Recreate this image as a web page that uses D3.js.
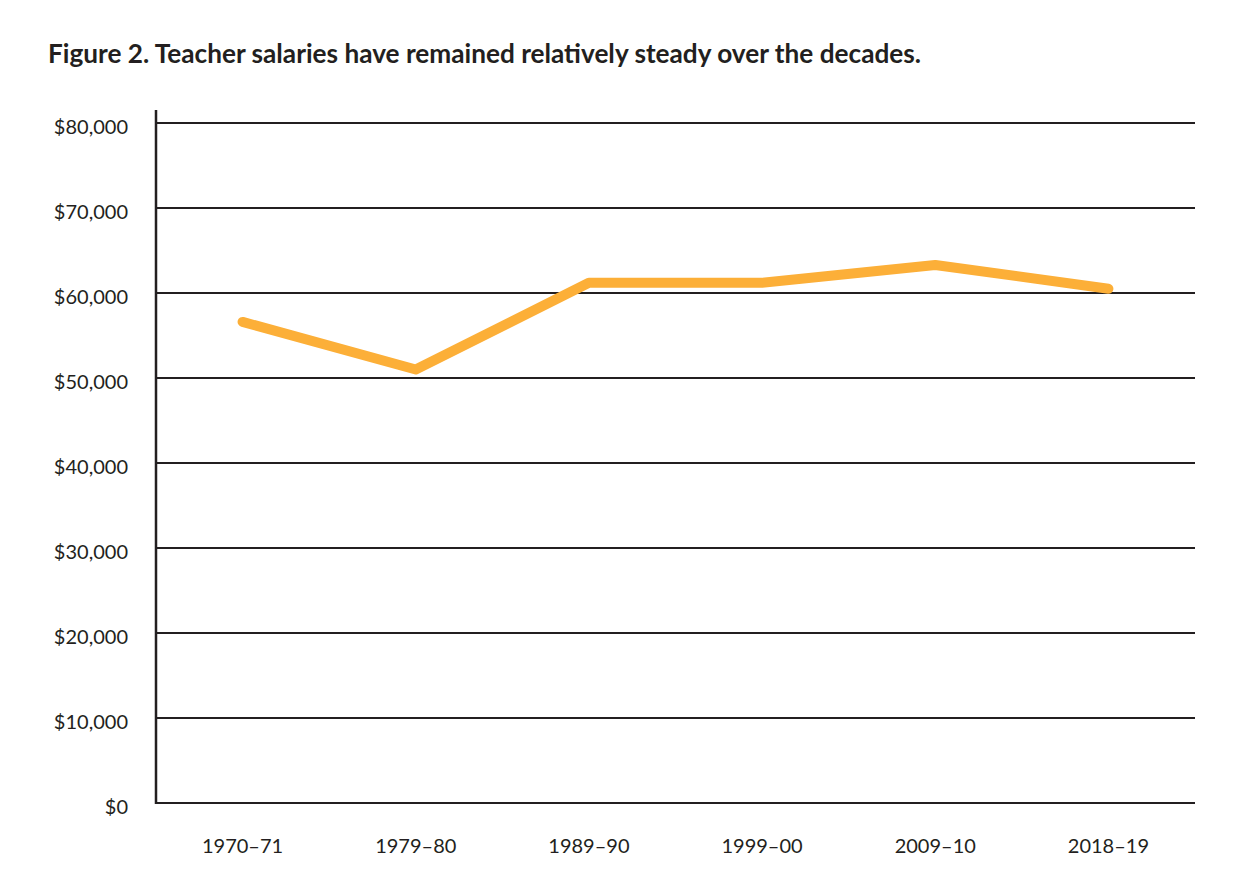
<!DOCTYPE html>
<head>
<meta charset="utf-8">
<title>Teacher salaries</title>
<script src="https://cdnjs.cloudflare.com/ajax/libs/d3/7.8.5/d3.min.js"></script>
<style>
  body { margin: 0; background: #fff; }
  text { font-family: Lato, "Noto Sans", sans-serif; fill: #231f20; }
</style>
</head>
<body>
<script>
// school years and average salary
var years = ["1970–71", "1979–80", "1989–90", "1999–00", "2009–10", "2018–19"];
var salaries = [56600, 51000, 61200, 61200, 63300, 60500];
var yTicks = [0, 10000, 20000, 30000, 40000, 50000, 60000, 70000, 80000];

var svg = d3.select("body").append("svg")
    .attr("width", 1240)
    .attr("height", 880);

svg.append("text")
    .attr("x", 48)
    .attr("y", 63)
    .style("font-size", "26.2px")
    .style("font-weight", "bold")
    .text("Figure 2. Teacher salaries have remained relatively steady over the decades.");

var x = d3.scaleBand().domain(years).range([156, 1195]);
var y = d3.scaleLinear().domain([0, 80000]).range([803, 123]);

// horizontal grid
svg.append("g")
    .selectAll("line")
    .data(yTicks)
  .enter().append("line")
    .attr("x1", 156)
    .attr("x2", 1195)
    .attr("y1", function(d){ return y(d); })
    .attr("y2", function(d){ return y(d); })
    .attr("stroke", "#231f20")
    .attr("stroke-width", 2);

// y axis line
svg.append("line")
    .attr("x1", 156).attr("x2", 156)
    .attr("y1", 110).attr("y2", 804)
    .attr("stroke", "#231f20")
    .attr("stroke-width", 2.5);

// tick labels sit a little below their gridline in the original
var fmt = d3.format(",");
svg.append("g")
    .selectAll("text")
    .data(yTicks)
  .enter().append("text")
    .attr("x", 128)
    .attr("y", function(d){ return y(d) + 4; })
    .attr("dy", "0.35em")
    .attr("text-anchor", "end")
    .style("font-size", "20px")
    .text(function(d){ return "$" + fmt(d); });

svg.append("g")
    .selectAll("text")
    .data(years)
  .enter().append("text")
    .attr("x", function(d){ return x(d) + x.bandwidth() / 2; })
    .attr("y", 853)
    .attr("text-anchor", "middle")
    .style("font-size", "20px")
    .text(function(d){ return d; });

var line = d3.line()
    .x(function(d, i){ return x(years[i]) + x.bandwidth() / 2; })
    .y(function(d){ return y(d); });

svg.append("path")
    .datum(salaries)
    .attr("d", line)
    .attr("fill", "none")
    .attr("stroke", "#fcaf38")
    .attr("stroke-width", 10)
    .attr("stroke-linecap", "round")
    .attr("stroke-linejoin", "round");
</script>
</body>
